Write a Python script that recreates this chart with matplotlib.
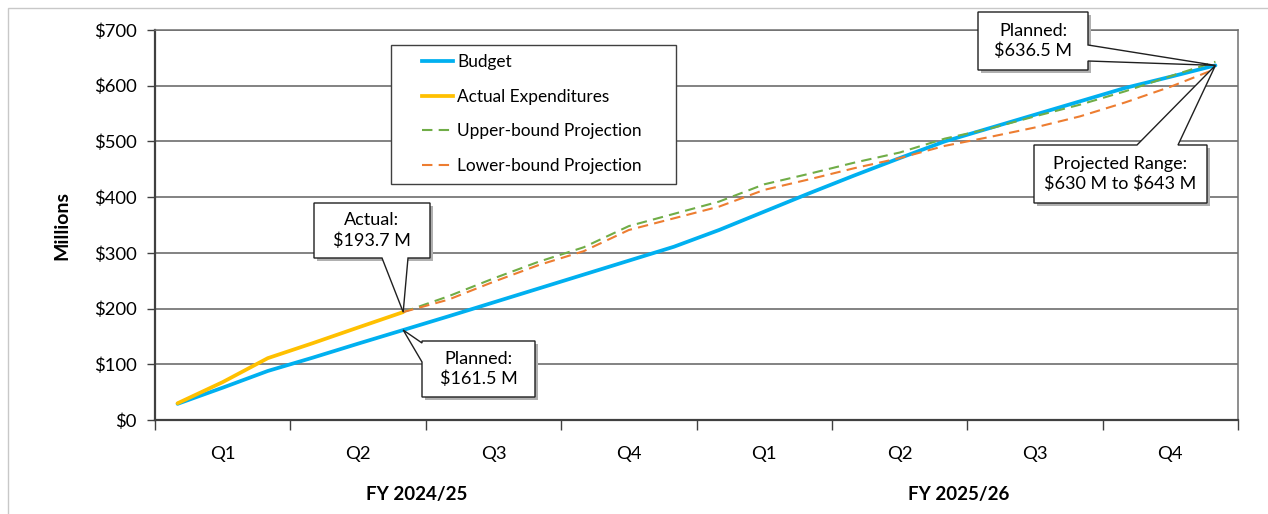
import matplotlib
matplotlib.use("Agg")
import matplotlib.pyplot as plt
import matplotlib.patches as patches
from matplotlib.lines import Line2D
import matplotlib.transforms as mtransforms

# monthly values ($ millions), 24 months over two fiscal years
budget = [29, 58, 88, 112, 137, 161.5, 186, 211, 236, 261, 286, 311,
          341, 374, 407, 439, 470, 500, 524, 548, 572, 596, 616, 636.5]
actual = [30, 68, 111, 138, 166, 193.7]  # months 0-5
upper = [193.7, 222, 254, 284, 310, 348, 370, 392, 423, 442, 462, 480,
         505, 523, 545, 566, 590, 617, 643]  # months 5-23
lower = [193.7, 216, 248, 278, 303, 341, 362, 383, 413, 432, 452, 470,
         492, 508, 525, 545, 570, 598, 630]  # months 5-23
quarters = ["Q1", "Q2", "Q3", "Q4", "Q1", "Q2", "Q3", "Q4"]
fiscal_years = ["FY 2024/25", "FY 2025/26"]
y_ticks = [0, 100, 200, 300, 400, 500, 600, 700]

W, H = 1268, 514
FONT = "Lato"
plt.rcParams["font.family"] = [FONT, "DejaVu Sans"]
plt.rcParams["text.parse_math"] = False

fig = plt.figure(figsize=(W / 100, H / 100), dpi=100)
ax = fig.add_axes([155 / W, 1 - 420 / H, (1238 - 155) / W, (420 - 30) / H])


def px(x, y):
    # pixel (top-left origin) -> figure fraction
    return (x / W, 1 - y / H)


months = list(range(len(budget)))
proj_months = months[len(actual) - 1:]

ax.plot(months, budget, color="#00B0F0", lw=2.7, solid_capstyle="round", zorder=3)
ax.plot(months[:len(actual)], actual, color="#FFC000", lw=2.7, solid_capstyle="round", zorder=4)
l_up, = ax.plot(proj_months, upper, color="#70AD47", lw=1.5, zorder=5)
l_lo, = ax.plot(proj_months, lower, color="#ED7D31", lw=1.5, zorder=5)
l_up.set_dashes((5, 3))
l_lo.set_dashes((5, 3))

ax.set_xlim(-0.5, len(budget) - 0.5)
ax.set_ylim(0, 700)
ax.set_yticks(y_ticks)
ax.set_yticklabels([f"${v}" for v in y_ticks])
ax.yaxis.grid(True, color="#606060", lw=1.1)
ax.set_axisbelow(True)

# quarter boundaries as major ticks, quarter names as minor labels
ax.set_xticks([i * 3 - 0.5 for i in range(len(quarters) + 1)])
ax.set_xticklabels([])
ax.set_xticks([i * 3 + 1 for i in range(len(quarters))], minor=True)
ax.set_xticklabels(quarters, minor=True)
ax.tick_params(axis="x", which="major", length=7, width=1, color="#404040")
ax.tick_params(axis="x", which="minor", length=0, pad=19, labelsize=13.3)
ax.tick_params(axis="y", length=6, width=1, color="#404040", pad=7, labelsize=13.3)

for s in ["top", "right"]:
    ax.spines[s].set_color("#707070")
    ax.spines[s].set_linewidth(1.1)
for s in ["left", "bottom"]:
    ax.spines[s].set_color("#404040")
    ax.spines[s].set_linewidth(1.6)

trans = mtransforms.blended_transform_factory(ax.transData, ax.transAxes)
for i, fy in enumerate(fiscal_years):
    ax.text(i * 12 + 5.3, -0.192, fy, transform=trans, ha="center", va="center",
            fontsize=13.5, fontweight="bold")

fig.text(*px(62, 225), "Millions", rotation=90, ha="center", va="center",
         fontsize=14, fontweight="bold")

# outer chart border
fig.add_artist(patches.Rectangle(px(8, 530), (1300 - 8) / W, (530 - 8) / H,
                                 transform=fig.transFigure, fill=False,
                                 edgecolor="#C8C8C8", lw=1))

# legend with manual frame
fig.add_artist(patches.Rectangle(px(391, 184), (676 - 391) / W, (184 - 45) / H,
                                 transform=fig.transFigure, facecolor="white",
                                 edgecolor="#404040", lw=1, zorder=6))
handles = [Line2D([], [], color="#00B0F0", lw=2.7),
           Line2D([], [], color="#FFC000", lw=2.7),
           Line2D([], [], color="#70AD47", lw=1.5, dashes=(5, 3)),
           Line2D([], [], color="#ED7D31", lw=1.5, dashes=(5, 3))]
labels = ["Budget", "Actual Expenditures", "Upper-bound Projection", "Lower-bound Projection"]
leg = fig.legend(handles, labels, loc="upper left", bbox_to_anchor=px(410, 42),
                 frameon=False, fontsize=12.4, handlelength=1.8, handletextpad=0.25,
                 labelspacing=1.08, borderpad=0.2)
leg.set_zorder(7)


def tip_px(xd, yd):
    dx, dy = ax.transData.transform((xd, yd))
    return (dx, H - dy)


def callout(box, edge, b1, b2, tip, text):
    x0, y0, x1, y1 = box
    tl, tr, br, bl = (x0, y0), (x1, y0), (x1, y1), (x0, y1)
    if edge == "top":
        pts = [tl, b1, tip, b2, tr, br, bl]
    elif edge == "right":
        pts = [tl, tr, b1, tip, b2, br, bl]
    elif edge == "bottom":
        pts = [tl, tr, br, b2, tip, b1, bl]
    else:
        pts = [tl, tr, br, bl, b2, tip, b1]
    shadow = [px(x + 3, y + 3) for x, y in [tl, tr, br, bl]]
    fig.add_artist(patches.Polygon(shadow, closed=True, transform=fig.transFigure,
                                   facecolor="#B0B0B0", edgecolor="none", zorder=8))
    fig.add_artist(patches.Polygon([px(x, y) for x, y in pts], closed=True,
                                   transform=fig.transFigure, facecolor="white",
                                   edgecolor="#202020", lw=1, zorder=9))
    fig.text(*px((x0 + x1) / 2, (y0 + y1) / 2), text, ha="center", va="center",
             fontsize=13, linespacing=1.3, zorder=10)


end = len(budget) - 1
a = len(actual) - 1
callout((314, 203, 430, 258), "bottom", (382, 258), (408, 258), tip_px(a, actual[-1]),
        "Actual:\n$193.7 M")
callout((422, 341, 535, 397), "left", (422, 343), (422, 362), tip_px(a, budget[a]),
        "Planned:\n$161.5 M")
callout((978, 12, 1088, 70), "right", (1088, 45), (1088, 61), tip_px(end, budget[end]),
        "Planned:\n$636.5 M")
callout((1034, 145, 1207, 203), "top", (1137, 145), (1178, 145), tip_px(end, budget[end]),
        "Projected Range:\n$630 M to $643 M")

fig.savefig("out.png", dpi=100)
